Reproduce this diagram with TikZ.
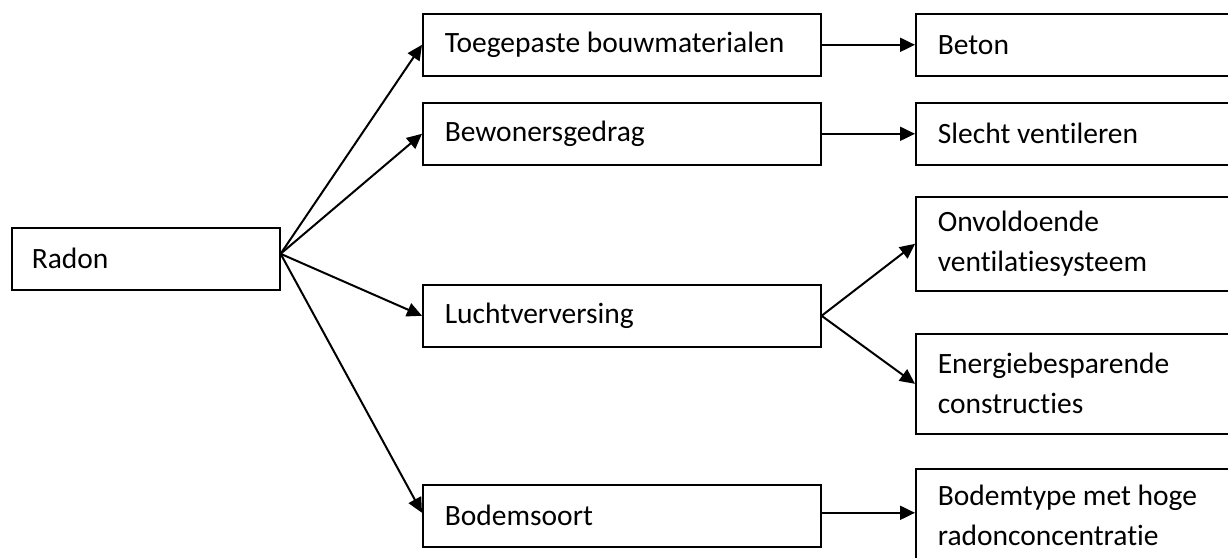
\documentclass[tikz,border=0pt]{standalone}
\usepackage{fontspec}
\setmainfont{Carlito}[Ligatures=NoCommon]
\usetikzlibrary{arrows.meta}
\begin{document}
\begin{tikzpicture}[x=1pt,y=-1pt,
  box/.style={draw, line width=1.6pt, rectangle, anchor=north west,
    inner xsep=22pt, inner ysep=0pt, align=flush left,
    font=\fontsize{29.5}{40}\selectfont},
  link/.style={-{Triangle[length=15pt,width=14pt]}, line width=2pt}]
\useasboundingbox (0,0) rectangle (1228,557);
\clip (0,0) rectangle (1228,557);

% root
\node[box, inner xsep=20pt, text width=228pt, minimum height=62pt] (radon) at (11,227) {Radon};

% causes
\node[box, text width=354pt, minimum height=62pt] (bouw)  at (422,13)  {Toegepaste bouwmaterialen};
\node[box, text width=354pt, minimum height=62pt] (gedrag) at (422,102) {Bewonersgedrag};
\node[box, text width=354pt, minimum height=62pt] (lucht) at (422,284) {Luchtverversing};
\node[box, text width=354pt, minimum height=62pt] (bodem) at (422,484) {Bodemsoort};

% details
\node[box, text width=273pt, minimum height=62pt] (beton)   at (915,13)  {Beton};
\node[box, text width=273pt, minimum height=62pt] (slecht)  at (915,102) {Slecht ventileren};
\node[box, text width=273pt, minimum height=94pt] (onvold)  at (915,196) {Onvoldoende\\ventilatiesysteem};
\node[box, text width=273pt, minimum height=100pt] (energie) at (915,333) {Energiebesparende\\constructies};
\node[box, text width=273pt, minimum height=94pt] (bodemtype) at (915,468) {Bodemtype met hoge\\radonconcentratie};

% fan-out point on the root box
\coordinate (hub) at ([yshift=5pt]radon.east);

\draw[link] (hub) -- (bouw.west);
\draw[link] (hub) -- (gedrag.west);
\draw[link] (hub) -- (lucht.west);
\draw[link] (hub) -- ([yshift=3pt]bodem.west);

\draw[link] (bouw.east) -- (beton.west);
\draw[link] (gedrag.east) -- (slecht.west);
\draw[link] (lucht.east) -- (onvold.west);
\draw[link] (lucht.east) -- (energie.west);
\draw[link] ([yshift=3pt]bodem.east) -- ([yshift=3pt]bodem.east -| bodemtype.west);
\end{tikzpicture}
\end{document}
